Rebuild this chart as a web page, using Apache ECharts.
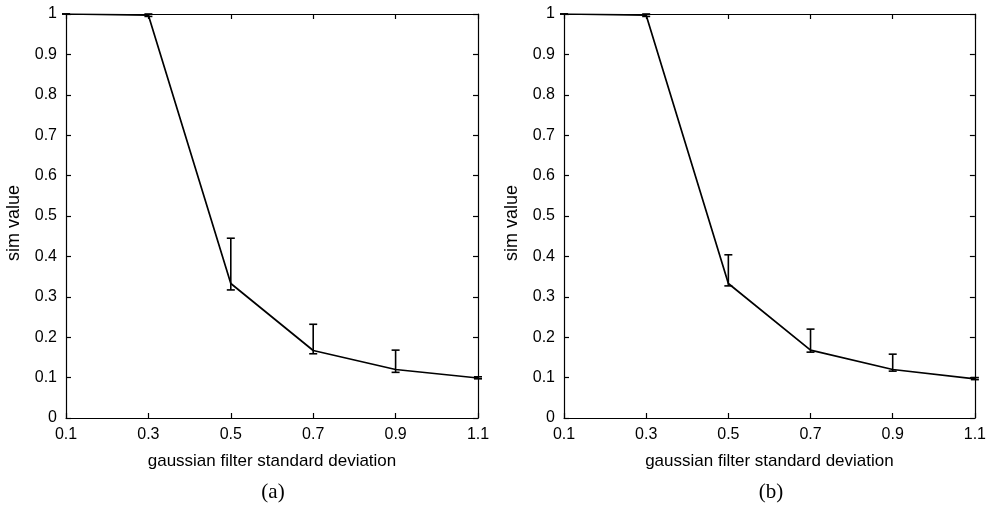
<!DOCTYPE html>
<html><head><meta charset="utf-8">
<script src="https://cdn.jsdelivr.net/npm/echarts@6/dist/echarts.min.js"></script>
<style>html,body{margin:0;padding:0;background:#fff}#c{width:989px;height:510px}</style>
</head><body><div id="c"></div>
<script>
var xValues = [0.1, 0.3, 0.5, 0.7, 0.9, 1.1];
var xTicks = [0.1, 0.3, 0.5, 0.7, 0.9, 1.1];
var simA = [1.0, 0.997, 0.333, 0.167, 0.120, 0.099];
var lowA = [1.0, 0.994, 0.317, 0.159, 0.113, 0.097];
var highA = [1.0, 1.0, 0.445, 0.232, 0.168, 0.102];
var simB = [1.0, 0.997, 0.333, 0.168, 0.120, 0.097];
var lowB = [1.0, 0.994, 0.327, 0.163, 0.116, 0.095];
var highB = [1.0, 1.0, 0.404, 0.220, 0.158, 0.100];
var xName = 'gaussian filter standard deviation';
var yName = 'sim value';
var panelLabels = ['(a)', '(b)'];

var FONT = 'Liberation Sans';
var chart = echarts.init(document.getElementById('c'));
var grids = [
  {left: 66, top: 14, width: 412, height: 404},
  {left: 564, top: 14, width: 412, height: 404}
];
var xAxes = [], yAxes = [], series = [];
function lineStyle(){ return {color: '#000', width: 1.2}; }
function fmt(v){ return String(Math.round(v*10)/10); }
for (var g = 0; g < 2; g++) {
  xAxes.push({type: 'value', gridIndex: g, min: 0.1, max: 1.1, position: 'bottom',
    name: xName, nameLocation: 'middle', nameGap: 35,
    nameTextStyle: {fontFamily: FONT, fontSize: 17, color: '#000'},
    axisLine: {show: true, onZero: false, lineStyle: lineStyle()},
    axisTick: {show: true, inside: true, length: 5, customValues: xTicks, lineStyle: lineStyle()},
    axisLabel: {show: true, customValues: xTicks, fontFamily: FONT, fontSize: 16, color: '#000', margin: 9, formatter: fmt},
    splitLine: {show: false}});
  xAxes.push({type: 'value', gridIndex: g, min: 0.1, max: 1.1, position: 'top',
    axisLine: {show: true, onZero: false, lineStyle: lineStyle()},
    axisTick: {show: true, inside: true, length: 5, customValues: xTicks, lineStyle: lineStyle()},
    axisLabel: {show: false}, splitLine: {show: false}});
  yAxes.push({type: 'value', gridIndex: g, min: 0, max: 1, interval: 0.1, position: 'left',
    name: yName, nameLocation: 'middle', nameGap: 43,
    nameTextStyle: {fontFamily: FONT, fontSize: 18, color: '#000', padding: [0, 14, 0, 0]},
    axisLine: {show: true, onZero: false, lineStyle: lineStyle()},
    axisTick: {show: true, inside: true, length: 5, lineStyle: lineStyle()},
    axisLabel: {fontFamily: FONT, fontSize: 16, color: '#000', margin: 9, formatter: fmt},
    splitLine: {show: false}});
  yAxes.push({type: 'value', gridIndex: g, min: 0, max: 1, interval: 0.1, position: 'right',
    axisLine: {show: true, onZero: false, lineStyle: lineStyle()},
    axisTick: {show: true, inside: true, length: 5, lineStyle: lineStyle()},
    axisLabel: {show: false}, splitLine: {show: false}});
}
var sims = [simA, simB], lows = [lowA, lowB], highs = [highA, highB];
for (var g = 0; g < 2; g++) {
  series.push({type: 'line', xAxisIndex: g*2, yAxisIndex: g*2, symbol: 'none',
    lineStyle: {color: '#000', width: 1.7}, silent: true, animation: false,
    data: xValues.map(function(x, i){ return [x, sims[g][i]]; })});
  series.push({type: 'custom', xAxisIndex: g*2, yAxisIndex: g*2, silent: true, animation: false,
    data: xValues.map(function(x, i){ return [x, lows[g][i], highs[g][i]]; }),
    renderItem: function(params, api){
      var lo = api.coord([api.value(0), api.value(1)]);
      var hi = api.coord([api.value(0), api.value(2)]);
      var hw = 4;
      var st = {stroke: '#000', lineWidth: 1.6, fill: null};
      return {type: 'group', children: [
        {type: 'line', shape: {x1: lo[0], y1: lo[1], x2: hi[0], y2: hi[1]}, style: st},
        {type: 'line', shape: {x1: lo[0]-hw, y1: lo[1], x2: lo[0]+hw, y2: lo[1]}, style: st},
        {type: 'line', shape: {x1: hi[0]-hw, y1: hi[1], x2: hi[0]+hw, y2: hi[1]}, style: st}
      ]};
    }});
}
chart.setOption({
  animation: false,
  backgroundColor: '#fff',
  grid: grids,
  xAxis: xAxes,
  yAxis: yAxes,
  series: series,
  graphic: [
    {type: 'text', x: 273, y: 492, style: {text: panelLabels[0], font: '21px "Liberation Serif"', fill: '#000', align: 'center', verticalAlign: 'middle'}},
    {type: 'text', x: 771, y: 492, style: {text: panelLabels[1], font: '21px "Liberation Serif"', fill: '#000', align: 'center', verticalAlign: 'middle'}}
  ]
});
</script></body></html>
